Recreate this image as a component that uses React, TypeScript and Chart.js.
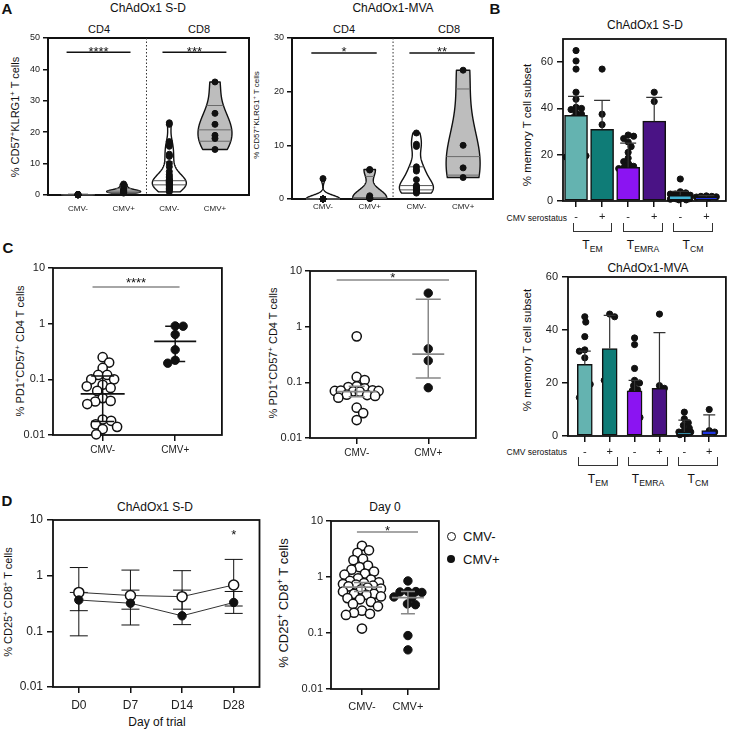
import React, { useEffect, useRef } from 'react';
import { Chart, registerables } from 'chart.js';

Chart.register(...registerables);

const FONT = '"Liberation Sans", Arial, Helvetica, sans-serif';
const INK = '#111';

// ===== Panel A: violin data (% CD57+KLRG1+ T cells) =====
const violinLabels = ['CMV-', 'CMV+', 'CMV-', 'CMV+'];
const aTicksSD = [0, 10, 20, 30, 40, 50];
const aTicksMVA = [0, 10, 20, 30];
const sdCd4Neg = [0, 0.05, 0.1, 0.1, 0.05, 0.2, 0, 0.15, 0.1, 0.05];
const sdCd4Pos = [3.5, 2.6, 1.8, 1.5, 1.3, 1.2, 1.0, 0.9, 0.8, 0.6];
const sdCd8Neg = [23, 22.5, 17, 16, 15.5, 13, 12.5, 12.3, 10, 9, 7.5, 6.5, 6, 5.5, 5, 4.8, 4.6, 4.5, 4.3, 4.2, 4, 3.9, 3.8, 3.6, 3.5, 3.3, 3, 2.8, 2.5, 2.2, 2, 1.8, 1.5, 1];
const sdCd8Pos = [36, 26, 22.5, 19, 18, 14.5];
const mvaCd4Neg = [3.8, 0, 0, 0, 0, 0, 0, 0, 0, 0];
const mvaCd4Pos = [5.5, 5.4, 0.6, 0.3, 0.2, 0.2, 0.1, 0.1];
const mvaCd8Neg = [12.3, 10.2, 9.8, 6, 5.5, 5.2, 3.6, 2.5, 2.3, 2.1, 1.9, 1.7, 1.5, 1.3, 1.1];
const mvaCd8Pos = [24, 10, 5.8, 4];
const violinFills = ['#ffffff', '#bdbdbd', '#ffffff', '#bdbdbd'];

// ===== Panel B: memory subsets =====
const serostatusTicks = ['-', '+', '-', '+', '-', '+'];
const subsetColors = ['#64b3b0', '#0f7c77', '#8b14f2', '#4a1385', '#43b4d6', '#1f35e0'];
const bTicksSD = [0, 20, 40, 60];
const bTicksMVA = [0, 20, 40, 60];
const sdBarMean = [37, 31, 14.5, 34.5, 2.5, 1.8];
const sdBarHi = [45.2, 43.5, 25, 44.8, 4.2, 2.3];
const sdTemNeg = [65, 60.5, 57, 47, 44, 40.5, 40, 39.5, 38, 37.5, 36, 34, 29, 27, 24, 21, 20, 19.5, 19, 19.5];
const sdTemPos = [57, 37.5, 33, 29, 23.5, 20];
const sdTemraNeg = [28.5, 28, 27, 25.5, 23.5, 21, 18.5, 17, 16, 15, 14.5, 14, 13.5, 11, 9.5, 8, 6, 5.5];
const sdTemraPos = [47, 43, 25.5, 19, 9.5];
const sdTcmNeg = [9.5, 4, 3.5, 3, 3, 2.5, 2.5, 2, 2, 1.5, 1.5, 1.5, 1, 1, 0.8, 0.5, 0.5];
const sdTcmPos = [2.2, 2, 2, 1.8, 1.7, 1.5];
const mvaBarMean = [27, 33, 17, 18, 1.5, 2];
const mvaBarHi = [32, 45.5, 21, 39, 6, 8];
const mvaTemNeg = [45, 43, 37.5, 32.5, 32, 29.5, 25, 22.5, 20, 19.5, 17.5, 15, 14.5, 8.5];
const mvaTemPos = [46, 45, 21, 21];
const mvaTemraNeg = [37, 34.5, 25.5, 21, 20, 19, 17.5, 17, 15, 12.5, 10, 7.5, 7];
const mvaTemraPos = [46, 19, 18, 9];
const mvaTcmNeg = [9, 6.5, 5, 4, 3, 2, 1.5, 1.5, 1, 1, 0.8, 0.5];
const mvaTcmPos = [10, 2, 1.5];

// ===== Panel C: % PD1+CD57+ CD4 T cells =====
const cmvGroups = ['CMV-', 'CMV+'];
const decadeTicks = [0.01, 0.1, 1, 10];
const cSdNeg = [0.25, 0.2, 0.16, 0.12, 0.12, 0.1, 0.1, 0.08, 0.075, 0.07, 0.062, 0.046, 0.041, 0.04, 0.036, 0.019, 0.018, 0.0155, 0.014, 0.0128, 0.0103];
const cSdPos = [0.91, 0.9, 0.64, 0.34, 0.22, 0.195];
const cSdMean = [0.055, 0.48];
const cSdLo = [0.0175, 0.21];
const cSdHi = [0.115, 0.9];
const cMvaNeg = [0.67, 0.125, 0.11, 0.085, 0.082, 0.078, 0.072, 0.07, 0.069, 0.07, 0.071, 0.068, 0.06, 0.059, 0.057, 0.053, 0.035, 0.028, 0.021];
const cMvaPos = [4.0, 0.4, 0.245, 0.08];
const cMvaMean = [0.068, 0.32];
const cMvaLo = [0.055, 0.12];
const cMvaHi = [0.085, 3.1];

// ===== Panel D: % CD25+ CD8+ T cells =====
const trialDays = ['D0', 'D7', 'D14', 'D28'];
const dNegMean = [0.5, 0.44, 0.42, 0.68];
const dNegLo = [0.235, 0.25, 0.25, 0.285];
const dNegHi = [1.4, 1.26, 1.23, 1.96];
const dPosMean = [0.365, 0.32, 0.19, 0.33];
const dPosLo = [0.083, 0.13, 0.132, 0.21];
const dPosHi = [0.5, 0.55, 0.55, 0.52];
const day0Neg = [3.6, 3.0, 2.7, 2.1, 2.0, 1.6, 1.5, 1.35, 1.25, 1.15, 1.1, 0.95, 0.9, 0.85, 0.8, 0.78, 0.75, 0.73, 0.7, 0.68, 0.65, 0.62, 0.6, 0.55, 0.5, 0.5, 0.48, 0.45, 0.42, 0.4, 0.36, 0.33, 0.3, 0.25, 0.23, 0.22, 0.21, 0.12];
const day0Pos = [0.85, 0.55, 0.55, 0.54, 0.53, 0.44, 0.43, 0.33, 0.32, 0.09, 0.05];
const day0Mean = [0.66, 0.43];
const day0Lo = [0.55, 0.22];
const day0Hi = [0.8, 0.55];

// ===== helpers =====
type Rect = { x: number; y: number; w: number; h: number };
type Plot = { l: number; t: number; r: number; b: number };
type Spec = { rect: Rect; plot: Plot; xr: number[]; yr: number[]; log?: boolean };

type ViolinSpec = { x: number; values: number[]; fill: string };
type ErrSpec = { x: number; lo: number; hi: number; cap: number; capLo: boolean; color: string; lw: number; layer: 'before' | 'afterFirst' | 'after' };
type HLine = { x: number; y: number; half: number; color: string; lw: number };
type Sig = { x1: number; x2: number; y: number; text: string; color: string; line: boolean; size: number; dy: number };
type Extras = { frameW: number; divider?: number; violinHalf?: number; violins?: ViolinSpec[]; errs?: ErrSpec[]; hlines?: HLine[]; sigs?: Sig[] };

function quantile(s: number[], p: number) {
  const n = s.length;
  let pos = (n + 1) * p - 1;
  pos = Math.max(0, Math.min(n - 1, pos));
  const lo = Math.floor(pos);
  const hi = Math.ceil(pos);
  return s[lo] + (s[hi] - s[lo]) * (pos - lo);
}

function drawViolin(ctx: CanvasRenderingContext2D, xs: any, ys: any, v: ViolinSpec, half: number) {
  const s = [...v.values].sort((a, b) => a - b);
  const n = s.length;
  const mn = s[0];
  const mx = s[n - 1];
  const mean = s.reduce((a, b) => a + b, 0) / n;
  const sd = Math.sqrt(s.reduce((a, b) => a + (b - mean) ** 2, 0) / Math.max(1, n - 1));
  const iqr = quantile(s, 0.75) - quantile(s, 0.25);
  let spread = Math.min(sd, iqr / 1.34);
  if (!(spread > 0)) spread = sd;
  let bw = 0.9 * spread * Math.pow(n, -0.2);
  if (!(bw > 0)) bw = 1;
  const dens = (y: number) => s.reduce((a, x) => a + Math.exp(-0.5 * ((y - x) / bw) ** 2), 0);
  const N = 100;
  const yv: number[] = [];
  for (let i = 0; i <= N; i++) yv.push(mn + ((mx - mn) * i) / N);
  const ds = yv.map(dens);
  const maxD = Math.max(...ds);
  const cx = xs.getPixelForValue(v.x);
  ctx.save();
  ctx.beginPath();
  yv.forEach((y, i) => {
    const px = cx + (ds[i] / maxD) * half;
    const py = ys.getPixelForValue(y);
    if (i === 0) ctx.moveTo(px, py);
    else ctx.lineTo(px, py);
  });
  for (let i = N; i >= 0; i--) ctx.lineTo(cx - (ds[i] / maxD) * half, ys.getPixelForValue(yv[i]));
  ctx.closePath();
  ctx.fillStyle = v.fill;
  ctx.fill();
  ctx.lineWidth = 1.4;
  ctx.strokeStyle = INK;
  ctx.lineJoin = 'round';
  ctx.stroke();
  ctx.lineWidth = 1;
  ctx.strokeStyle = v.fill === '#ffffff' ? '#555' : '#6a6a6a';
  for (const p of [0.25, 0.5, 0.75]) {
    const q = quantile(s, p);
    const w = (Math.min(dens(q), maxD) / maxD) * half;
    const py = ys.getPixelForValue(q);
    ctx.beginPath();
    ctx.moveTo(cx - w, py);
    ctx.lineTo(cx + w, py);
    ctx.stroke();
  }
  ctx.restore();
}

function drawErrs(ctx: CanvasRenderingContext2D, xs: any, ys: any, errs: ErrSpec[]) {
  ctx.save();
  for (const e of errs) {
    const cx = xs.getPixelForValue(e.x);
    const y1 = ys.getPixelForValue(e.lo);
    const y2 = ys.getPixelForValue(e.hi);
    ctx.strokeStyle = e.color;
    ctx.lineWidth = e.lw;
    ctx.beginPath();
    ctx.moveTo(cx, y1);
    ctx.lineTo(cx, y2);
    ctx.moveTo(cx - e.cap, y2);
    ctx.lineTo(cx + e.cap, y2);
    if (e.capLo) {
      ctx.moveTo(cx - e.cap, y1);
      ctx.lineTo(cx + e.cap, y1);
    }
    ctx.stroke();
  }
  ctx.restore();
}

function extras(spec: Extras) {
  return {
    id: 'extras',
    beforeDatasetsDraw(chart: any) {
      const { ctx, chartArea: a } = chart;
      const xs = chart.scales.x;
      const ys = chart.scales.y;
      ctx.save();
      ctx.strokeStyle = INK;
      ctx.lineWidth = spec.frameW;
      ctx.strokeRect(a.left, a.top, a.right - a.left, a.bottom - a.top);
      if (spec.divider != null) {
        const px = xs.getPixelForValue(spec.divider);
        ctx.setLineDash([1.5, 2]);
        ctx.lineWidth = 1;
        ctx.strokeStyle = '#333';
        ctx.beginPath();
        ctx.moveTo(px, a.top);
        ctx.lineTo(px, a.bottom);
        ctx.stroke();
        ctx.setLineDash([]);
      }
      ctx.restore();
      if (spec.violins) for (const v of spec.violins) drawViolin(ctx, xs, ys, v, spec.violinHalf ?? 17);
      if (spec.errs) drawErrs(ctx, xs, ys, spec.errs.filter((e) => e.layer === 'before'));
    },
    afterDatasetDraw(chart: any, args: any) {
      if (args.index === 0 && spec.errs) drawErrs(chart.ctx, chart.scales.x, chart.scales.y, spec.errs.filter((e) => e.layer === 'afterFirst'));
    },
    afterDatasetsDraw(chart: any) {
      const { ctx } = chart;
      const xs = chart.scales.x;
      const ys = chart.scales.y;
      if (spec.errs) drawErrs(ctx, xs, ys, spec.errs.filter((e) => e.layer === 'after'));
      ctx.save();
      for (const h of spec.hlines ?? []) {
        const cx = xs.getPixelForValue(h.x);
        const py = ys.getPixelForValue(h.y);
        ctx.strokeStyle = h.color;
        ctx.lineWidth = h.lw;
        ctx.beginPath();
        ctx.moveTo(cx - h.half, py);
        ctx.lineTo(cx + h.half, py);
        ctx.stroke();
      }
      for (const s of spec.sigs ?? []) {
        const x1 = xs.getPixelForValue(s.x1);
        const x2 = xs.getPixelForValue(s.x2);
        const py = ys.getPixelForValue(s.y);
        if (s.line) {
          ctx.strokeStyle = s.color;
          ctx.lineWidth = 1.5;
          ctx.beginPath();
          ctx.moveTo(x1, py);
          ctx.lineTo(x2, py);
          ctx.stroke();
        }
        ctx.fillStyle = INK;
        ctx.font = `${s.size}px ${FONT}`;
        ctx.textAlign = 'center';
        ctx.textBaseline = 'alphabetic';
        ctx.fillText(s.text, (x1 + x2) / 2, py + s.dy);
      }
      ctx.restore();
    },
  };
}

// bounded beeswarm: horizontal offsets (px, at most maxW) so that points of similar value do not hide each other
function swarm(values: number[], center: number, spec: Spec, diam: number, maxW: number) {
  const { plot, xr, yr, log } = spec;
  const pxPerX = (plot.r - plot.l) / (xr[1] - xr[0]);
  const toPx = log
    ? (v: number) => (Math.log10(v) * (plot.b - plot.t)) / (Math.log10(yr[1]) - Math.log10(yr[0]))
    : (v: number) => (v * (plot.b - plot.t)) / (yr[1] - yr[0]);
  const order = values.map((_, i) => i).sort((a, b) => values[b] - values[a]);
  const placed: number[][] = [];
  const res: { x: number; y: number }[] = new Array(values.length);
  let side = 1;
  const minDist = diam * 0.82;
  const cands: number[] = [0];
  for (let d = 0.5; d <= maxW; d += 0.5) cands.push(d, -d);
  for (const i of order) {
    const py = toPx(values[i]);
    const gap = (c: number) => placed.reduce((m, [qx, qy]) => Math.min(m, Math.hypot(qx - c, qy - py)), Infinity);
    let off: number | null = null;
    for (const c0 of cands) {
      const c = c0 * side;
      if (gap(c) >= minDist) {
        off = c;
        break;
      }
    }
    if (off === null) {
      let best = 0;
      let bestGap = -1;
      for (const c of cands) {
        const g = gap(c);
        if (g > bestGap + 0.01) {
          bestGap = g;
          best = c;
        }
      }
      off = best;
    }
    if (off !== 0) side = -Math.sign(off);
    placed.push([off, py]);
    res[i] = { x: center + off / pxPerX, y: values[i] };
  }
  return res;
}

function tickFont(size: number) {
  return { family: FONT, size };
}

function linX(range: number[], labels: string[], size: number, padding: number, tickLen: number) {
  return {
    type: 'linear',
    min: range[0],
    max: range[1],
    offset: false,
    afterBuildTicks: (a: any) => {
      a.ticks = labels.map((_, i) => ({ value: i }));
    },
    ticks: {
      callback: (v: number) => labels[Math.round(v)] ?? '',
      font: tickFont(size),
      color: '#222',
      padding,
      autoSkip: false,
      maxRotation: 0,
      minRotation: 0,
    },
    grid: { display: tickLen > 0, offset: false, drawOnChartArea: false, drawTicks: tickLen > 0, tickLength: tickLen, color: INK, lineWidth: 1.5 },
    border: { display: false },
  };
}

function linY(range: number[], ticks: number[], size: number, padding: number, tickLen: number) {
  return {
    type: 'linear',
    min: range[0],
    max: range[1],
    afterBuildTicks: (a: any) => {
      a.ticks = ticks.map((v) => ({ value: v }));
    },
    ticks: { callback: (v: number) => String(v), font: tickFont(size), color: '#222', padding },
    grid: { display: true, drawOnChartArea: false, drawTicks: true, tickLength: tickLen, color: INK, lineWidth: 1.5 },
    border: { display: false },
  };
}

function logY(size: number, padding: number, tickLen: number) {
  return {
    type: 'logarithmic',
    min: decadeTicks[0],
    max: decadeTicks[decadeTicks.length - 1],
    afterBuildTicks: (a: any) => {
      a.ticks = decadeTicks.map((v) => ({ value: v }));
    },
    ticks: { callback: (v: number) => String(v), font: tickFont(size), color: '#222', padding },
    grid: { display: true, drawOnChartArea: false, drawTicks: true, tickLength: tickLen, color: INK, lineWidth: 1.5 },
    border: { display: false },
  };
}

function mkOpts(spec: Spec, xCfg: any, yCfg: any) {
  const { rect, plot } = spec;
  return {
    responsive: false,
    animation: false,
    events: [],
    layout: { padding: { top: plot.t - rect.y, right: rect.x + rect.w - plot.r, left: 0, bottom: 0 } },
    plugins: { legend: { display: false }, tooltip: { enabled: false }, title: { display: false } },
    scales: {
      x: { ...xCfg, afterFit: (s: any) => { s.height = rect.y + rect.h - plot.b; } },
      y: { ...yCfg, afterFit: (s: any) => { s.width = plot.l - rect.x; } },
    },
  };
}

function dots(r: number, open: boolean) {
  return {
    pointRadius: r,
    pointHoverRadius: r,
    pointBackgroundColor: open ? '#fff' : INK,
    pointBorderColor: INK,
    pointBorderWidth: open ? 1.5 : 1,
    backgroundColor: open ? '#fff' : INK,
    borderColor: INK,
    clip: false,
  };
}

// ===== panel geometry =====
const specA1: Spec = { rect: { x: 18, y: 28, w: 237, h: 190 }, plot: { l: 48, t: 38, r: 249, b: 195 }, xr: [-0.657, 3.745], yr: [0, 50] };
const specA2: Spec = { rect: { x: 258, y: 28, w: 240, h: 190 }, plot: { l: 292, t: 38, r: 493, b: 199 }, xr: [-0.664, 3.64], yr: [0, 30] };
const specB1: Spec = { rect: { x: 528, y: 28, w: 202, h: 200 }, plot: { l: 563, t: 39, r: 727, b: 201 }, xr: [-0.5, 5.75], yr: [0, 70] };
const specB2: Spec = { rect: { x: 528, y: 266, w: 202, h: 196 }, plot: { l: 568, t: 277, r: 728, b: 436 }, xr: [-0.675, 5.67], yr: [0, 60] };
const specC1: Spec = { rect: { x: 12, y: 256, w: 216, h: 204 }, plot: { l: 53, t: 268, r: 223, b: 435 }, xr: [-0.685, 1.644], yr: [0.01, 10], log: true };
const specC2: Spec = { rect: { x: 278, y: 258, w: 204, h: 204 }, plot: { l: 310, t: 271, r: 477, b: 438 }, xr: [-0.653, 1.666], yr: [0.01, 10], log: true };
const specD1: Spec = { rect: { x: 12, y: 508, w: 254, h: 208 }, plot: { l: 53, t: 520, r: 261, b: 687 }, xr: [-0.5, 3.5], yr: [0.01, 10], log: true };
const specD2: Spec = { rect: { x: 290, y: 509, w: 155, h: 208 }, plot: { l: 331, t: 521, r: 439, b: 689 }, xr: [-0.674, 1.674], yr: [0.01, 10], log: true };

function violinChart(spec: Spec, groups: number[][], ticks: number[], xPad: number, sigY: number, sigTexts: string[], sigDy: number) {
  return {
    type: 'scatter',
    data: { datasets: groups.map((g, i) => ({ data: g.map((v) => ({ x: i, y: v })), ...dots(3, false) })) },
    options: mkOpts(spec, linX(spec.xr, violinLabels, 8, xPad, 0), linY(spec.yr, ticks, 9, 3, 5)),
    plugins: [
      extras({
        frameW: 2,
        divider: 1.5,
        violinHalf: 17,
        violins: groups.map((g, i) => ({ x: i, values: g, fill: violinFills[i] })),
        sigs: [
          { x1: -0.25, x2: 1.15, y: sigY, text: sigTexts[0], color: INK, line: true, size: 13, dy: sigDy },
          { x1: 1.85, x2: 3.25, y: sigY, text: sigTexts[1], color: INK, line: true, size: 13, dy: sigDy },
        ],
      }),
    ],
  };
}

function barChart(spec: Spec, means: number[], his: number[], groups: number[][], ticks: number[], barW: number, cap: number) {
  const pts = groups.flatMap((g, i) => swarm(g, i, spec, 6.5, barW * 0.45));
  return {
    type: 'bar',
    data: {
      datasets: [
        {
          type: 'bar',
          data: means.map((m, i) => ({ x: i, y: m })),
          backgroundColor: subsetColors,
          borderColor: INK,
          borderWidth: 1.5,
          barThickness: barW,
          borderSkipped: false,
        },
        { type: 'scatter', data: pts, ...dots(3.1, false) },
      ],
    },
    options: mkOpts(spec, linX(spec.xr, serostatusTicks, 11, 3, 6), linY(spec.yr, ticks, 11, 4, 6)),
    plugins: [
      extras({
        frameW: 1.8,
        errs: means.map((m, i) => ({ x: i, lo: m, hi: his[i], cap, capLo: false, color: '#333', lw: 1.2, layer: 'afterFirst' as const })),
      }),
    ],
  };
}

function dotChart(spec: Spec, neg: number[], pos: number[], mean: number[], lo: number[], hi: number[], opt: { xSize: number; ySize: number; xPad: number; yPad: number; color: string; meanHalf: number[]; cap: number[]; spreadW: number[]; sig: Sig }) {
  return {
    type: 'scatter',
    data: {
      datasets: [
        { data: swarm(neg, 0, spec, 10, opt.spreadW[0]), ...dots(4.6, true) },
        { data: swarm(pos, 1, spec, 9.5, opt.spreadW[1]), ...dots(4.2, false) },
      ],
    },
    options: mkOpts(spec, linX(spec.xr, cmvGroups, opt.xSize, opt.xPad, 6), logY(opt.ySize, opt.yPad, 5)),
    plugins: [
      extras({
        frameW: 1.8,
        errs: mean.map((_, i) => ({ x: i, lo: lo[i], hi: hi[i], cap: opt.cap[i], capLo: true, color: opt.color, lw: 1.5, layer: 'after' as const })),
        hlines: mean.map((m, i) => ({ x: i, y: m, half: opt.meanHalf[i], color: opt.color, lw: 1.8 })),
        sigs: [opt.sig],
      }),
    ],
  };
}

function lineChart(spec: Spec) {
  const errs: ErrSpec[] = [
    ...dNegMean.map((_, i) => ({ x: i, lo: dNegLo[i], hi: dNegHi[i], cap: 9, capLo: true, color: INK, lw: 1, layer: 'before' as const })),
    ...dPosMean.map((_, i) => ({ x: i, lo: dPosLo[i], hi: dPosHi[i], cap: 9, capLo: true, color: INK, lw: 1, layer: 'before' as const })),
  ];
  return {
    type: 'scatter',
    data: {
      datasets: [
        { data: dPosMean.map((v, i) => ({ x: i, y: v })), showLine: true, ...dots(4.2, false), borderColor: '#333', borderWidth: 1 },
        { data: dNegMean.map((v, i) => ({ x: i, y: v })), showLine: true, ...dots(5, true), borderColor: '#333', borderWidth: 1 },
      ],
    },
    options: mkOpts(spec, linX(spec.xr, trialDays, 12, 5, 6), logY(12, 4, 6)),
    plugins: [
      extras({
        frameW: 1.8,
        errs,
        sigs: [{ x1: 3, x2: 3, y: 6.1, text: '*', color: INK, line: false, size: 13, dy: 7.5 }],
      }),
    ],
  };
}

const PANELS: { spec: Spec; build: () => any }[] = [
  { spec: specA1, build: () => violinChart(specA1, [sdCd4Neg, sdCd4Pos, sdCd8Neg, sdCd8Pos], aTicksSD, 9, 45.5, ['****', '***'], 3.5) },
  { spec: specA2, build: () => violinChart(specA2, [mvaCd4Neg, mvaCd4Pos, mvaCd8Neg, mvaCd8Pos], aTicksMVA, 3, 27.2, ['*', '**'], 2.5) },
  { spec: specB1, build: () => barChart(specB1, sdBarMean, sdBarHi, [sdTemNeg, sdTemPos, sdTemraNeg, sdTemraPos, sdTcmNeg, sdTcmPos], bTicksSD, 23, 8) },
  { spec: specB2, build: () => barChart(specB2, mvaBarMean, mvaBarHi, [mvaTemNeg, mvaTemPos, mvaTemraNeg, mvaTemraPos, mvaTcmNeg, mvaTcmPos], bTicksMVA, 15, 6) },
  {
    spec: specC1,
    build: () =>
      dotChart(specC1, cSdNeg, cSdPos, cSdMean, cSdLo, cSdHi, {
        xSize: 10, ySize: 11, xPad: 3, yPad: 3, color: INK, meanHalf: [22, 21], cap: [11.5, 10], spreadW: [21, 10],
        sig: { x1: -0.14, x2: 1.06, y: 4.56, text: '****', color: '#888', line: true, size: 13, dy: 0 },
      }),
  },
  {
    spec: specC2,
    build: () =>
      dotChart(specC2, cMvaNeg, cMvaPos, cMvaMean, cMvaLo, cMvaHi, {
        xSize: 10, ySize: 11, xPad: 3, yPad: 3, color: '#888', meanHalf: [20, 16], cap: [8, 12.5], spreadW: [22, 8],
        sig: { x1: -0.28, x2: 1.29, y: 6.9, text: '*', color: '#888', line: true, size: 13, dy: 2.5 },
      }),
  },
  { spec: specD1, build: () => lineChart(specD1) },
  {
    spec: specD2,
    build: () =>
      dotChart(specD2, day0Neg, day0Pos, day0Mean, day0Lo, day0Hi, {
        xSize: 11, ySize: 11, xPad: 5, yPad: 3, color: '#888', meanHalf: [20, 16], cap: [8, 7], spreadW: [19, 14],
        sig: { x1: -0.11, x2: 1.22, y: 6.36, text: '*', color: '#888', line: true, size: 13, dy: 2.5 },
      }),
  },
];

// ===== HTML text helpers =====
function T(p: { x: number; y: number; size: number; bold?: boolean; anchor?: 'c' | 'l' | 'r'; children: any }) {
  const tx = p.anchor === 'l' ? '0' : p.anchor === 'r' ? '-100%' : '-50%';
  return (
    <div style={{ position: 'absolute', left: p.x, top: p.y, transform: `translate(${tx},-50%)`, fontSize: p.size, fontWeight: p.bold ? 700 : 400, whiteSpace: 'nowrap', lineHeight: 1, color: INK }}>
      {p.children}
    </div>
  );
}

function V(p: { x: number; y: number; size: number; children: any }) {
  return (
    <div style={{ position: 'absolute', left: p.x, top: p.y, transform: 'translate(-50%,-50%) rotate(-90deg)', fontSize: p.size, whiteSpace: 'nowrap', lineHeight: 1, color: INK }}>
      {p.children}
    </div>
  );
}

function Bracket(p: { l: number; r: number; t: number; b: number }) {
  return <div style={{ position: 'absolute', left: p.l, top: p.t, width: p.r - p.l, height: p.b - p.t, borderLeft: '1px solid #333', borderRight: '1px solid #333', borderBottom: '1px solid #333', boxSizing: 'border-box' }} />;
}

const supStyle = { fontSize: '0.7em', verticalAlign: '0.45em', lineHeight: 0 } as const;
const subStyle = { fontSize: '0.72em', verticalAlign: '-0.3em', lineHeight: 0 } as const;
const Sup = () => <span style={supStyle}>+</span>;

function SubsetRow(p: { y: number; brackets: number[][] }) {
  const names = ['EM', 'EMRA', 'CM'];
  return (
    <>
      <T x={567} y={p.y} size={8.5} anchor="r">CMV serostatus</T>
      {p.brackets.map((b, i) => (
        <React.Fragment key={i}>
          <Bracket l={b[0]} r={b[1]} t={p.y + 5} b={p.y + 14} />
          <T x={(b[0] + b[1]) / 2} y={p.y + 27} size={12}>
            T<span style={subStyle}>{names[i]}</span>
          </T>
        </React.Fragment>
      ))}
    </>
  );
}

export default function App() {
  const refs = useRef<(HTMLCanvasElement | null)[]>([]);
  useEffect(() => {
    const charts = PANELS.map((p, i) => new Chart(refs.current[i] as HTMLCanvasElement, p.build() as any));
    return () => charts.forEach((c) => c.destroy());
  }, []);

  return (
    <div style={{ position: 'absolute', left: 0, top: 0, width: 730, height: 729, background: '#fff', fontFamily: FONT, overflow: 'hidden' }}>
      {/* Panel A */}
      <T x={7} y={8} size={15} bold>A</T>
      <T x={148} y={8} size={12}>ChAdOx1 S-D</T>
      <T x={99} y={29} size={11}>CD4</T>
      <T x={199} y={29} size={11}>CD8</T>
      <V x={15} y={117} size={11}>% CD57<Sup />KLRG1<Sup /> T cells</V>
      <T x={393} y={8} size={12}>ChAdOx1-MVA</T>
      <T x={344} y={29} size={11}>CD4</T>
      <T x={449} y={29} size={11}>CD8</T>
      <V x={257} y={115} size={8}>% CD57<Sup />KLRG1<Sup /> T cells</V>

      {/* Panel B */}
      <T x={495} y={8} size={15} bold>B</T>
      <T x={645} y={25} size={12}>ChAdOx1 S-D</T>
      <V x={528} y={125} size={11.5}>% memory T cell subset</V>
      <SubsetRow y={218} brackets={[[573, 612], [623, 663], [673, 713]]} />
      <T x={648} y={268} size={12}>ChAdOx1-MVA</T>
      <V x={528} y={350} size={11.5}>% memory T cell subset</V>
      <SubsetRow y={452} brackets={[[578, 618], [628, 668], [678, 718]]} />

      {/* Panel C */}
      <T x={8} y={247} size={15} bold>C</T>
      <V x={20} y={351} size={11}>% PD1<Sup />CD57<Sup /> CD4 T cells</V>
      <V x={273} y={353} size={11}>% PD1<Sup />CD57<Sup /> CD4 T cells</V>

      {/* Panel D */}
      <T x={7} y={500} size={15} bold>D</T>
      <T x={155} y={507} size={12}>ChAdOx1 S-D</T>
      <V x={8} y={602} size={11}>% CD25<Sup /> CD8<Sup /> T cells</V>
      <T x={157} y={722} size={12}>Day of trial</T>
      <T x={385} y={507} size={12}>Day 0</T>
      <V x={283} y={603} size={13}>% CD25<Sup /> CD8<Sup /> T cells</V>
      <div style={{ position: 'absolute', left: 446.5, top: 531.5, width: 9, height: 9, borderRadius: '50%', border: '1.5px solid #111', boxSizing: 'border-box' }} />
      <T x={463} y={536} size={13} anchor="l">CMV-</T>
      <div style={{ position: 'absolute', left: 447, top: 555, width: 8, height: 8, borderRadius: '50%', background: INK }} />
      <T x={463} y={559} size={13} anchor="l">CMV+</T>

      {PANELS.map((p, i) => (
        <canvas
          key={i}
          ref={(el) => {
            refs.current[i] = el;
          }}
          width={p.spec.rect.w}
          height={p.spec.rect.h}
          style={{ position: 'absolute', left: p.spec.rect.x, top: p.spec.rect.y, width: p.spec.rect.w, height: p.spec.rect.h }}
        />
      ))}
    </div>
  );
}
